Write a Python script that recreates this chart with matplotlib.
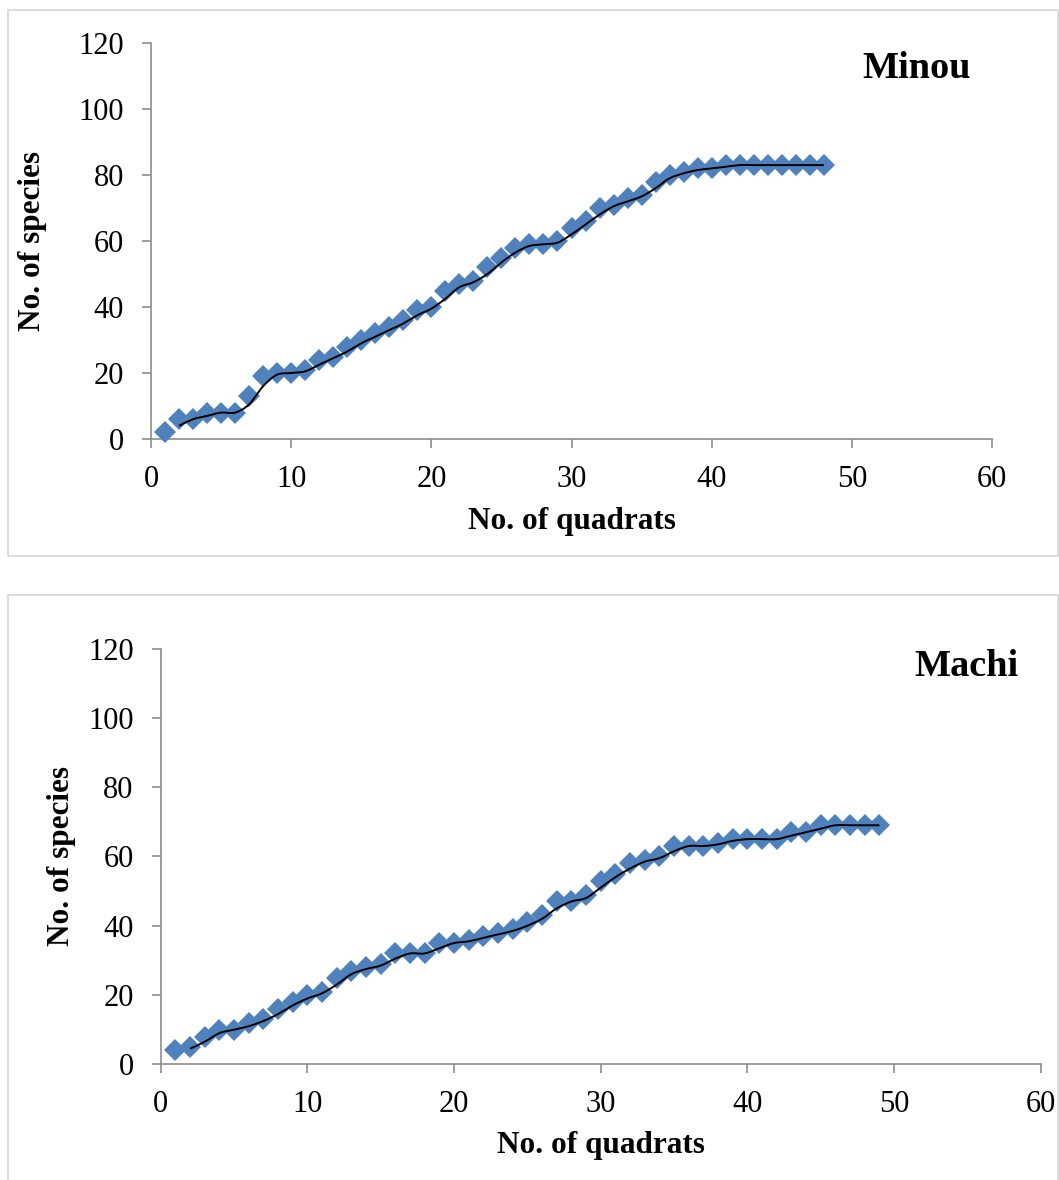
import numpy as np
import matplotlib
matplotlib.use("Agg")
import matplotlib.pyplot as plt
from matplotlib.path import Path
from matplotlib.patches import PathPatch, Rectangle

plt.rcParams['font.family'] = ['Liberation Serif', 'DejaVu Serif']

# ---- data ----
minou_quadrats = list(range(1, 49))
minou_species = [2, 6, 6, 8, 8, 8, 13, 19, 20, 20, 21, 24, 25, 28, 30, 32, 34, 36, 39, 40,
                 45, 47, 48, 52, 55, 58, 59, 59, 60, 64, 66, 70, 71, 73, 74, 78, 80, 81, 82, 82,
                 83, 83, 83, 83, 83, 83, 83, 83]
machi_quadrats = list(range(1, 50))
machi_species = [4, 5, 8, 10, 10, 12, 13, 16, 18, 20, 21, 25, 27, 28, 29, 32, 32, 32, 35, 35,
                 36, 37, 38, 39, 41, 43, 47, 47, 49, 53, 55, 58, 59, 60, 63, 63, 63, 64, 65, 65,
                 65, 65, 67, 67, 69, 69, 69, 69, 69]
titles = ["Minou", "Machi"]
x_ticks = [0, 10, 20, 30, 40, 50, 60]
y_ticks = [0, 20, 40, 60, 80, 100, 120]
xlabel = "No. of quadrats"
ylabel = "No. of species"

W, H = 1059, 1180
fig = plt.figure(figsize=(W / 100, H / 100), dpi=100)

def fx(px):
    return px / W

def fy(py):
    return 1 - py / H

# panel borders
for (top, bot) in [(10, 556), (595, 1200)]:
    fig.patches.append(Rectangle((fx(8), fy(bot)), fx(1058) - fx(8), fy(top) - fy(bot),
                                 transform=fig.transFigure, fill=False,
                                 edgecolor='#d9d9d9', linewidth=1.3, zorder=0))

def smooth_path(xs, ys):
    xs = np.asarray(xs, float)
    ys = np.asarray(ys, float)
    n = len(xs)
    verts = [(xs[0], ys[0])]
    codes = [Path.MOVETO]
    for i in range(n - 1):
        p0 = np.array([xs[max(i - 1, 0)], ys[max(i - 1, 0)]])
        p1 = np.array([xs[i], ys[i]])
        p2 = np.array([xs[i + 1], ys[i + 1]])
        p3 = np.array([xs[min(i + 2, n - 1)], ys[min(i + 2, n - 1)]])
        c1 = p1 + (p2 - p0) / 6.0
        c2 = p2 - (p3 - p1) / 6.0
        verts += [tuple(c1), tuple(c2), tuple(p2)]
        codes += [Path.CURVE4] * 3
    return Path(verts, codes)

panels = [
    # left, right, y0px, y120px
    (151, 992, 439, 43, minou_quadrats, minou_species, (917, 68)),
    (160.7, 1040.7, 1064.3, 648.6, machi_quadrats, machi_species, (966, 667)),
]

for k, (l, r, yb, yt, xq, ys, tpos) in enumerate(panels):
    ax = fig.add_axes([fx(l), fy(yb), fx(r) - fx(l), fy(yt) - fy(yb)])
    ax.set_xlim(0, 60)
    ax.set_ylim(0, 120)
    ax.set_xticks(x_ticks)
    ax.set_yticks(y_ticks)
    for s in ['top', 'right']:
        ax.spines[s].set_visible(False)
    for s in ['left', 'bottom']:
        ax.spines[s].set_color('#8c8c8c')
        ax.spines[s].set_linewidth(1.2)
    ax.tick_params(axis='both', direction='out', length=6.5, width=1.2, color='#8c8c8c',
                   labelsize=22, labelcolor='black')
    ax.tick_params(axis='y', pad=13)
    ax.tick_params(axis='x', pad=12)
    ax.patch.set_alpha(0)

    ax.plot(xq, ys, linestyle='none', marker='D', markersize=11,
            color='#4f81bd', markeredgewidth=0, clip_on=False, zorder=3)
    # 2-period moving average trendline (smoothed)
    ma_x = xq[1:]
    ma_y = [(ys[i - 1] + ys[i]) / 2 for i in range(1, len(ys))]
    ax.add_patch(PathPatch(smooth_path(ma_x, ma_y), facecolor='none',
                           edgecolor='black', linewidth=1.4, zorder=4))

    xc = (l + r) / 2
    xlab_y = 521 if k == 0 else 1146
    ylab_x = 33 if k == 0 else 61
    fig.text(fx(xc), fy(xlab_y), xlabel, fontsize=22.5, fontweight='bold',
             ha='center', va='center')
    fig.text(fx(ylab_x), fy((yb + yt) / 2), ylabel, fontsize=22.5, fontweight='bold',
             ha='center', va='center', rotation=90)
    fig.text(fx(tpos[0]), fy(tpos[1]), titles[k], fontsize=27.5, fontweight='bold',
             ha='center', va='center')

fig.savefig("out.png", dpi=100)
